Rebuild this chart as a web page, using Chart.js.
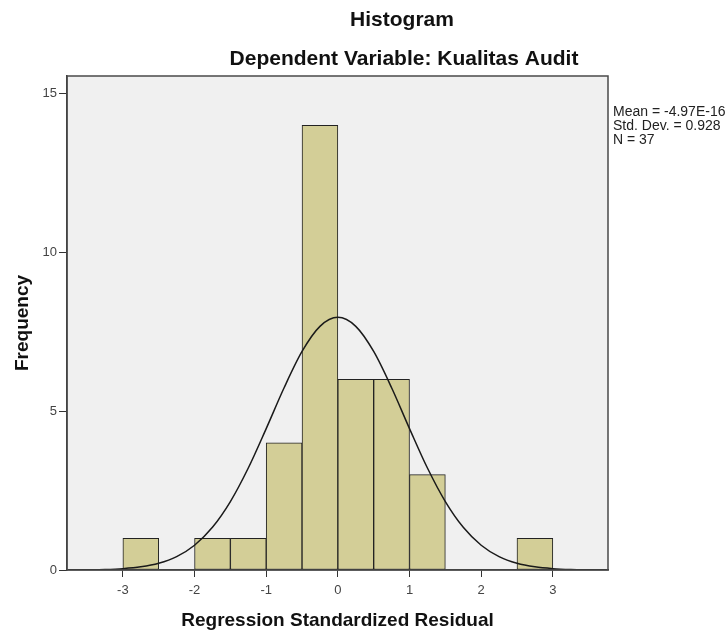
<!DOCTYPE html>
<html>
<head>
<meta charset="utf-8">
<script src="https://cdn.jsdelivr.net/npm/chart.js@4/dist/chart.umd.min.js"></script>
<style>
  html, body { margin: 0; padding: 0; background: #ffffff; }
  #wrap { width: 728px; height: 632px; }
</style>
</head>
<body>
<div id="wrap"><canvas id="chart" width="728" height="632"></canvas></div>
<script>
// histogram bins (centers) and counts
const binCenters = [-2.75, -2.25, -1.75, -1.25, -0.75, -0.25, 0.25, 0.75, 1.25, 1.75, 2.25, 2.75];
const binCounts  = [1, 0, 1, 1, 4, 14, 6, 6, 3, 0, 0, 1];

// normal curve
const curveX = [-3.75, -3.5, -3.25, -3, -2.75, -2.5, -2.25, -2, -1.75, -1.5, -1.25, -1, -0.75, -0.5, -0.25,
                0, 0.25, 0.5, 0.75, 1, 1.25, 1.5, 1.75, 2, 2.25, 2.5, 2.75, 3, 3.25, 3.5, 3.75];
const curveY = [0.002, 0.007, 0.017, 0.043, 0.099, 0.211, 0.421, 0.78, 1.344, 2.154, 3.21, 4.451, 5.737, 6.879, 7.67,
                7.953, 7.67, 6.879, 5.737, 4.451, 3.21, 2.154, 1.344, 0.78, 0.421, 0.211, 0.099, 0.043, 0.017, 0.007, 0.002];

const xTicks = [-3, -2, -1, 0, 1, 2, 3];
const yTicks = [0, 5, 10, 15];

const statsLines = ['Mean = -4.97E-16', 'Std. Dev. = 0.928', 'N = 37'];

const FONT = "'Liberation Sans', Arial, sans-serif";

const boxPlugin = {
    id: 'box',
    beforeDraw(chart) {
        const { ctx, chartArea: a } = chart;
        ctx.save();
        ctx.fillStyle = '#f0f0f0';
        ctx.fillRect(a.left, a.top, a.right - a.left, a.bottom - a.top);
        ctx.restore();
    },
    afterDraw(chart) {
        const { ctx, chartArea: a } = chart;
        ctx.save();
        ctx.strokeStyle = '#4a4a4a';
        ctx.lineWidth = 1.5;
        ctx.strokeRect(a.left, a.top, a.right - a.left, a.bottom - a.top);

        // titles
        ctx.fillStyle = '#111';
        ctx.textAlign = 'center';
        ctx.textBaseline = 'middle';
        ctx.font = 'bold 21px ' + FONT;
        ctx.fillText('Histogram', 402, 20);
        ctx.fillText('Dependent Variable: Kualitas Audit', 404, 59);

        // stats
        ctx.font = '14px ' + FONT;
        ctx.textAlign = 'left';
        ctx.fillStyle = '#222';
        statsLines.forEach((t, i) => ctx.fillText(t, a.right + 5, 112 + i * 14));
        ctx.restore();
    }
};

const ctx = document.getElementById('chart').getContext('2d');
new Chart(ctx, {
    data: {
        datasets: [
            {
                type: 'line',
                data: curveX.map((x, i) => ({ x: x, y: curveY[i] })),
                borderColor: '#1a1a1a',
                borderWidth: 1.5,
                pointRadius: 0,
                cubicInterpolationMode: 'monotone',
                fill: false,
                order: 0
            },
            {
                type: 'bar',
                data: binCenters.map((x, i) => ({ x: x, y: binCounts[i] })),
                backgroundColor: '#d3ce97',
                borderColor: '#222222',
                borderWidth: 1,
                borderSkipped: false,
                barPercentage: 1,
                categoryPercentage: 1,
                order: 1
            }
        ]
    },
    options: {
        responsive: false,
        animation: false,
        layout: { padding: { top: 76, right: 120, left: 0, bottom: 0 } },
        plugins: {
            legend: { display: false },
            tooltip: { enabled: false }
        },
        scales: {
            x: {
                type: 'linear',
                min: -3.78,
                max: 3.77,
                offset: false,
                afterBuildTicks: (s) => { s.ticks = xTicks.map(v => ({ value: v })); },
                afterFit: (s) => { s.height = 62; },
                grid: { offset: false, drawOnChartArea: false, drawTicks: true, tickLength: 7, color: '#333', lineWidth: 1 },
                border: { display: true, color: '#333', width: 1.5 },
                ticks: { color: '#444', font: { family: FONT, size: 13 }, padding: 6, maxRotation: 0 },
                title: {
                    display: true,
                    text: 'Regression Standardized Residual',
                    color: '#111',
                    font: { family: FONT, size: 19, weight: 'bold' },
                    padding: { top: 0, bottom: 0 }
                }
            },
            y: {
                type: 'linear',
                min: 0,
                max: 15.55,
                afterBuildTicks: (s) => { s.ticks = yTicks.map(v => ({ value: v })); },
                afterFit: (s) => { s.width = 67; },
                grid: { drawOnChartArea: false, drawTicks: true, tickLength: 8, color: '#333', lineWidth: 1 },
                border: { display: true, color: '#333', width: 1.5 },
                ticks: { color: '#444', font: { family: FONT, size: 13 }, padding: 2 },
                title: {
                    display: true,
                    text: 'Frequency',
                    color: '#111',
                    font: { family: FONT, size: 19, weight: 'bold' },
                    padding: { top: 11, bottom: 0 }
                }
            }
        }
    },
    plugins: [boxPlugin]
});
</script>
</body>
</html>
